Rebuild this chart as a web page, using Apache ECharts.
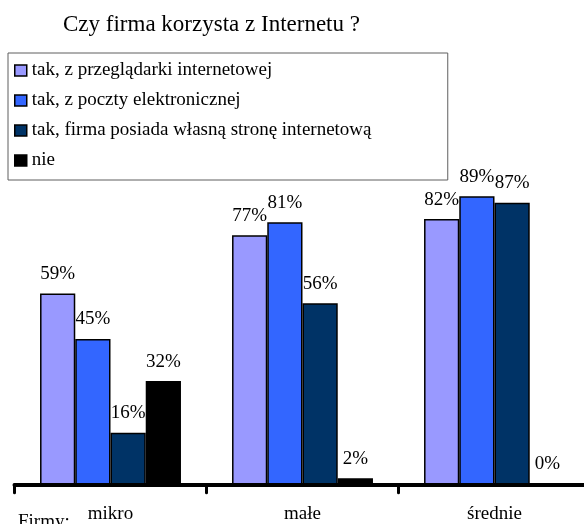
<!DOCTYPE html>
<html lang="pl">
<head>
<meta charset="utf-8">
<title>Czy firma korzysta z Internetu ?</title>
<script src="https://cdn.jsdelivr.net/npm/echarts@6/dist/echarts.min.js"></script>
<style>
  html, body { margin: 0; padding: 0; background: #ffffff; }
  #chart { width: 584px; height: 524px; }
</style>
</head>
<body>
<div id="chart"></div>
<script>
// Firm size groups along the x axis
const categories = ['mikro', 'małe', 'średnie'];

// Share of firms (%) per answer, one value per group
const przegladarka = [59, 77, 82];
const poczta = [45, 81, 89];
const stronaWlasna = [16, 56, 87];
const nie = [32, 2, 0];

const seriesNames = [
  'tak, z przeglądarki internetowej',
  'tak, z poczty elektronicznej',
  'tak, firma posiada własną stronę internetową',
  'nie'
];
const seriesValues = [przegladarka, poczta, stronaWlasna, nie];
const seriesColors = ['#9999FF', '#3366FF', '#003366', '#000000'];

const serif = '"Liberation Serif", "Times New Roman", serif';
const legendFontSize = 19;

// Size the legend frame so it spans a fixed width whatever the text width is
const ctx = document.createElement('canvas').getContext('2d');
ctx.font = legendFontSize + 'px ' + serif;
const maxTextWidth = Math.max.apply(null, seriesNames.map(n => ctx.measureText(n).width));
const legendPadLeft = 6, legendIconW = 12, legendFrameW = 439;
const legendPadRight = Math.max(2, legendFrameW - (legendPadLeft + legendIconW + 5 + maxTextWidth));

const chart = echarts.init(document.getElementById('chart'), null, { renderer: 'canvas' });

chart.setOption({
  animation: false,
  backgroundColor: '#ffffff',
  title: {
    text: 'Czy firma korzysta z Internetu ?',
    left: 58,
    top: 8,
    textStyle: { fontFamily: serif, fontSize: 23, fontWeight: 'normal', color: '#000' }
  },
  legend: {
    orient: 'vertical',
    left: 8,
    top: 53,
    padding: [8, legendPadRight, 10, legendPadLeft],
    itemGap: 11,
    itemWidth: legendIconW,
    itemHeight: 11,
    borderColor: '#5f5f5f',
    borderWidth: 1,
    backgroundColor: '#ffffff',
    selectedMode: false,
    itemStyle: { borderColor: '#000', borderWidth: 1.5 },
    textStyle: { fontFamily: serif, fontSize: legendFontSize, lineHeight: 18, color: '#000' },
    data: seriesNames.map(n => ({ name: n, icon: 'rect' }))
  },
  grid: {
    left: 14.5,
    width: 576,
    top: 160.7,
    bottom: 39.3,
    containLabel: false,
    outerBoundsMode: 'none'
  },
  xAxis: {
    type: 'category',
    data: categories,
    z: 10,
    axisLine: { lineStyle: { color: '#000', width: 4, cap: 'round' } },
    axisTick: { show: true, length: 8, lineStyle: { color: '#000', width: 3, cap: 'round' } },
    axisLabel: { margin: 20, fontFamily: serif, fontSize: 19, color: '#000' }
  },
  yAxis: { type: 'value', min: 0, max: 100, show: false },
  series: seriesNames.map((name, i) => ({
    name: name,
    type: 'bar',
    data: seriesValues[i],
    barGap: '0%',
    barCategoryGap: '26.6%',
    itemStyle: { color: seriesColors[i], borderColor: '#000', borderWidth: 1.5 },
    label: {
      show: true,
      position: 'top',
      distance: 10,
      formatter: '{c}%',
      fontFamily: serif,
      fontSize: 19,
      lineHeight: 19,
      color: '#000'
    }
  })),
  graphic: [{
    type: 'text',
    left: 18,
    top: 513,
    style: { text: 'Firmy:', font: '19px ' + serif, fill: '#000' }
  }]
});
</script>
</body>
</html>
